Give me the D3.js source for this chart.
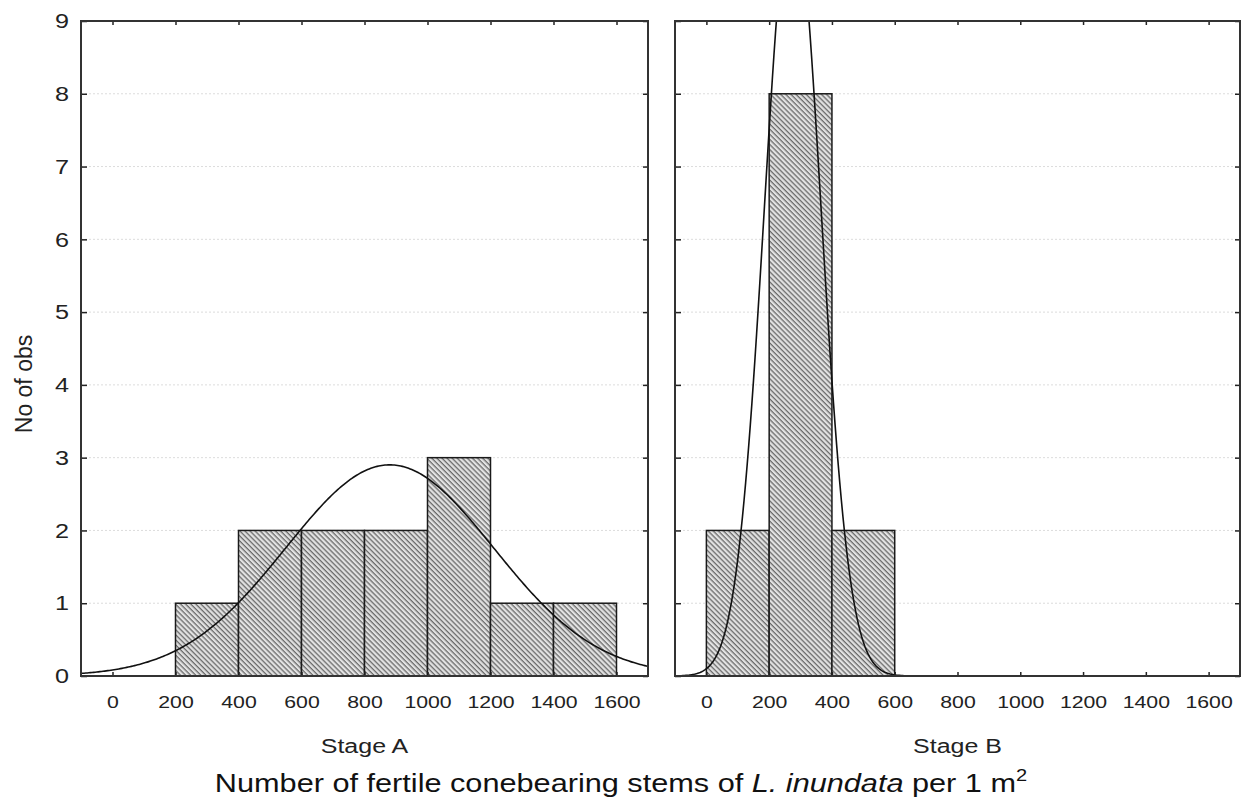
<!DOCTYPE html>
<html>
<head>
<meta charset="utf-8">
<script src="https://cdn.jsdelivr.net/npm/d3@7"></script>
<style>
  body { margin: 0; background: white; }
  svg { display: block; font-family: "Liberation Sans", Arial, sans-serif; }
</style>
</head>
<body>
<div id="chart"></div>
<script>
const width = 1242;
const height = 801;

// bin edges and counts
const binStarts = [200, 400, 600, 800, 1000, 1200, 1400];
const countsA = [1, 2, 2, 2, 3, 1, 1];
const binStartsB = [0, 200, 400];
const countsB = [2, 8, 2];
const binWidth = 200;
const xTicks = [0, 200, 400, 600, 800, 1000, 1200, 1400, 1600];
const yTicks = [0, 1, 2, 3, 4, 5, 6, 7, 8, 9];
// fitted normal curve parameters (mean, sd)
const fitA = [880, 330];
const fitB = [275, 90];

const plotTop = 21, plotBottom = 676;
const panels = [
  {name: "Stage A", x0: 81, x1: 648, starts: binStarts, counts: countsA, fit: fitA},
  {name: "Stage B", x0: 675, x1: 1240, starts: binStartsB, counts: countsB, fit: fitB}
];

const svg = d3.select("#chart")
  .append("svg")
  .attr("width", width)
  .attr("height", height);

const defs = svg.append("defs");
const pat = defs.append("pattern")
  .attr("id", "hatch")
  .attr("patternUnits", "userSpaceOnUse")
  .attr("width", 3.6)
  .attr("height", 3.6)
  .attr("patternTransform", "rotate(45)");
pat.append("rect").attr("width", 3.6).attr("height", 3.6).attr("fill", "#e2e2e2");
pat.append("rect").attr("width", 3.6).attr("height", 1.3).attr("fill", "#6a6a6a");

const y = d3.scaleLinear().domain([0, 9]).range([plotBottom, plotTop]);

panels.forEach((p, pi) => {
  const x = d3.scaleLinear().domain([-100, 1700]).range([p.x0, p.x1]);
  const g = svg.append("g");

  defs.append("clipPath").attr("id", "clip" + pi)
    .append("rect")
    .attr("x", p.x0).attr("y", plotTop)
    .attr("width", p.x1 - p.x0).attr("height", plotBottom - plotTop);

  // dotted grid
  g.selectAll("line.grid")
    .data(yTicks.slice(1, -1))
    .enter()
    .append("line")
    .attr("x1", p.x0).attr("x2", p.x1)
    .attr("y1", d => y(d)).attr("y2", d => y(d))
    .attr("stroke", "#dcdcdc")
    .attr("stroke-width", 1)
    .attr("stroke-dasharray", "2,2");

  // bars
  g.selectAll("rect.bar")
    .data(p.counts)
    .enter()
    .append("rect")
    .attr("x", (d, i) => x(p.starts[i]))
    .attr("y", d => y(d))
    .attr("width", (d, i) => x(p.starts[i] + binWidth) - x(p.starts[i]))
    .attr("height", d => y(0) - y(d))
    .attr("fill", "url(#hatch)")
    .attr("stroke", "#1a1a1a")
    .attr("stroke-width", 1.5);

  // normal fit curve
  const n = d3.sum(p.counts);
  const [mu, sd] = p.fit;
  const xs = d3.range(-100, 1701, 5);
  const curve = xs.map(v => [v, n * binWidth * Math.exp(-((v - mu) ** 2) / (2 * sd * sd)) / (sd * Math.sqrt(2 * Math.PI))]);
  g.append("path")
    .datum(curve)
    .attr("clip-path", `url(#clip${pi})`)
    .attr("fill", "none")
    .attr("stroke", "#111")
    .attr("stroke-width", 1.6)
    .attr("d", d3.line().x(d => x(d[0])).y(d => y(d[1])));

  // axes with inside ticks on all four sides
  const axB = g.append("g").attr("transform", `translate(0,${plotBottom})`)
    .call(d3.axisBottom(x).tickValues(xTicks).tickSize(-4).tickPadding(20).tickFormat(d3.format("d")));
  g.append("g").attr("transform", `translate(0,${plotTop})`)
    .call(d3.axisTop(x).tickValues(xTicks).tickSize(-4).tickFormat(""));
  const axL = g.append("g").attr("transform", `translate(${p.x0},0)`)
    .call(d3.axisLeft(y).tickValues(yTicks).tickSize(-6).tickPadding(12));
  g.append("g").attr("transform", `translate(${p.x1},0)`)
    .call(d3.axisRight(y).tickValues(yTicks).tickSize(-5).tickFormat(""));

  g.selectAll(".domain").remove();
  g.selectAll(".tick line").attr("stroke", "#222").attr("stroke-width", 1.5);

  axB.selectAll("text")
    .attr("font-size", 17)
    .attr("fill", "#222")
    .attr("transform", "scale(1.25,1)");
  if (pi === 0) {
    axL.selectAll("text")
      .attr("font-size", 21)
      .attr("fill", "#222")
      .attr("x", -10)
      .attr("transform", "scale(1.2,1)");
  } else {
    axL.selectAll("text").remove();
  }

  // frame
  g.append("rect")
    .attr("x", p.x0).attr("y", plotTop)
    .attr("width", p.x1 - p.x0).attr("height", plotBottom - plotTop)
    .attr("fill", "none")
    .attr("stroke", "#333")
    .attr("stroke-width", 2);

  svg.append("text")
    .attr("transform", `translate(${(p.x0 + p.x1) / 2},753) scale(1.25,1)`)
    .attr("text-anchor", "middle")
    .attr("font-size", 20)
    .attr("fill", "#222")
    .text(p.name);
});

svg.append("text")
  .attr("transform", "translate(32,384) rotate(-90)")
  .attr("text-anchor", "middle")
  .attr("font-size", 23)
  .attr("fill", "#222")
  .text("No of obs");

const title = svg.append("text")
  .attr("transform", "translate(621,792) scale(1.18,1)")
  .attr("text-anchor", "middle")
  .attr("font-size", 26)
  .attr("fill", "#111");
title.append("tspan").text("Number of fertile conebearing stems of ");
title.append("tspan").attr("font-style", "italic").text("L. inundata");
title.append("tspan").text(" per 1 m");
title.append("tspan").attr("font-size", 17).attr("dy", -11).text("2");
</script>
</body>
</html>
